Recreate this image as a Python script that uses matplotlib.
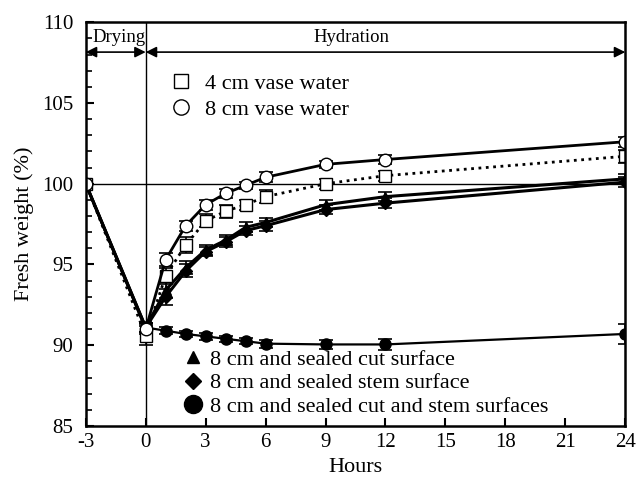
import matplotlib
matplotlib.use("Agg")
import matplotlib.pyplot as plt
from matplotlib.lines import Line2D
from matplotlib.ticker import MultipleLocator

plt.rcParams['font.family'] = ['Liberation Serif', 'DejaVu Serif']

hours = [-3, 0, 1, 2, 3, 4, 5, 6, 9, 12, 24]
vase8 = [100, 91.0, 95.3, 97.4, 98.7, 99.4, 99.9, 100.4, 101.2, 101.5, 102.6]
vase8_err = [0.1, 0.3, 0.4, 0.3, 0.3, 0.3, 0.2, 0.3, 0.2, 0.3, 0.3]
vase4 = [100, 90.6, 94.3, 96.2, 97.7, 98.3, 98.7, 99.2, 100.0, 100.5, 101.7]
vase4_err = [0.1, 0.6, 0.5, 0.5, 0.4, 0.4, 0.3, 0.4, 0.3, 0.3, 0.4]
cut = [100, 91.1, 93.4, 94.8, 95.9, 96.5, 97.3, 97.6, 98.7, 99.2, 100.3]
cut_err = [0.1, 0.3, 0.5, 0.4, 0.3, 0.3, 0.3, 0.3, 0.3, 0.3, 0.3]
stem = [100, 91.1, 93.0, 94.6, 95.8, 96.4, 97.1, 97.4, 98.4, 98.8, 100.1]
stem_err = [0.1, 0.3, 0.5, 0.4, 0.3, 0.3, 0.3, 0.3, 0.3, 0.3, 0.3]
both = [100, 91.1, 90.9, 90.7, 90.55, 90.4, 90.25, 90.1, 90.05, 90.05, 90.7]
both_err = [0.1, 0.3, 0.2, 0.2, 0.2, 0.2, 0.2, 0.25, 0.3, 0.35, 0.6]

xticks = [-3, 0, 3, 6, 9, 12, 15, 18, 21, 24]

fig = plt.figure(figsize=(6.4, 4.83), dpi=100)
ax = fig.add_axes([0.134, 0.118, 0.843, 0.836])

kw = dict(color='black', ecolor='black', capsize=5, elinewidth=1.2, capthick=1.2)
ax.errorbar(hours, both, yerr=both_err, marker='o', ms=8, mfc='black', lw=1.6, **kw)
ax.errorbar(hours, stem, yerr=stem_err, marker='D', ms=6, mfc='black', lw=2.2, **kw)
ax.errorbar(hours, cut, yerr=cut_err, marker='^', ms=7, mfc='black', lw=2.2, **kw)
ax.errorbar(hours, vase4, yerr=vase4_err, marker='s', ms=9, mfc='white', lw=2.0,
            linestyle=':', **kw)
ax.errorbar(hours, vase8, yerr=vase8_err, marker='o', ms=9, mfc='white', lw=2.0, **kw)

ax.axvline(0, color='black', lw=1.0, zorder=1)
ax.axhline(100, color='black', lw=1.0, zorder=1)

arrow_y = 108.15
ax.annotate('', xy=(-3, arrow_y), xytext=(0, arrow_y),
            arrowprops=dict(arrowstyle='<|-|>', color='black', lw=1.2, mutation_scale=16,
                            shrinkA=0, shrinkB=0))
ax.annotate('', xy=(0, arrow_y), xytext=(24, arrow_y),
            arrowprops=dict(arrowstyle='<|-|>', color='black', lw=1.2, mutation_scale=16,
                            shrinkA=0, shrinkB=0))
ax.text(-1.35, 109.05, 'Drying', ha='center', va='center', fontsize=13.5)
ax.text(10.3, 109.05, 'Hydration', ha='center', va='center', fontsize=13.5)

h1 = [Line2D([], [], ls='none', marker='s', ms=10, mfc='white', mec='black'),
      Line2D([], [], ls='none', marker='o', ms=11, mfc='white', mec='black')]
leg1 = ax.legend(h1, ['4 cm vase water', '8 cm vase water'], loc='center left',
                 bbox_to_anchor=(0.156, 0.816), frameon=False, fontsize=16,
                 handlelength=1.0, handletextpad=0.6, labelspacing=0.22, borderpad=0,
                 borderaxespad=0)
ax.add_artist(leg1)
h2 = [Line2D([], [], ls='none', marker='^', ms=9, mfc='black', mec='black'),
      Line2D([], [], ls='none', marker='D', ms=8, mfc='black', mec='black'),
      Line2D([], [], ls='none', marker='o', ms=13, mfc='black', mec='black')]
ax.legend(h2, ['8 cm and sealed cut surface', '8 cm and sealed stem surface',
               '8 cm and sealed cut and stem surfaces'], loc='center left',
          bbox_to_anchor=(0.186, 0.106), frameon=False, fontsize=16,
          handlelength=0.6, handletextpad=0.48, labelspacing=0.13, borderpad=0,
          borderaxespad=0)

ax.set_xlim(-3, 24)
ax.set_ylim(85, 110)
ax.set_xticks(xticks)
ax.set_xticklabels([str(v) for v in xticks])
ax.yaxis.set_major_locator(MultipleLocator(5))
ax.yaxis.set_minor_locator(MultipleLocator(1))
ax.tick_params(axis='both', which='major', direction='in', length=6, width=1.5,
               labelsize=15, top=False, right=False)
ax.tick_params(axis='y', which='major', pad=9)
ax.tick_params(axis='x', which='major', pad=5)
ax.tick_params(axis='y', which='minor', direction='in', length=4, width=1.2)
for s in ax.spines.values():
    s.set_linewidth(1.8)
ax.set_xlabel('Hours', fontsize=16, labelpad=4)
ax.set_ylabel('Fresh weight (%)', fontsize=16, labelpad=6)

fig.savefig('out.png', dpi=100)
